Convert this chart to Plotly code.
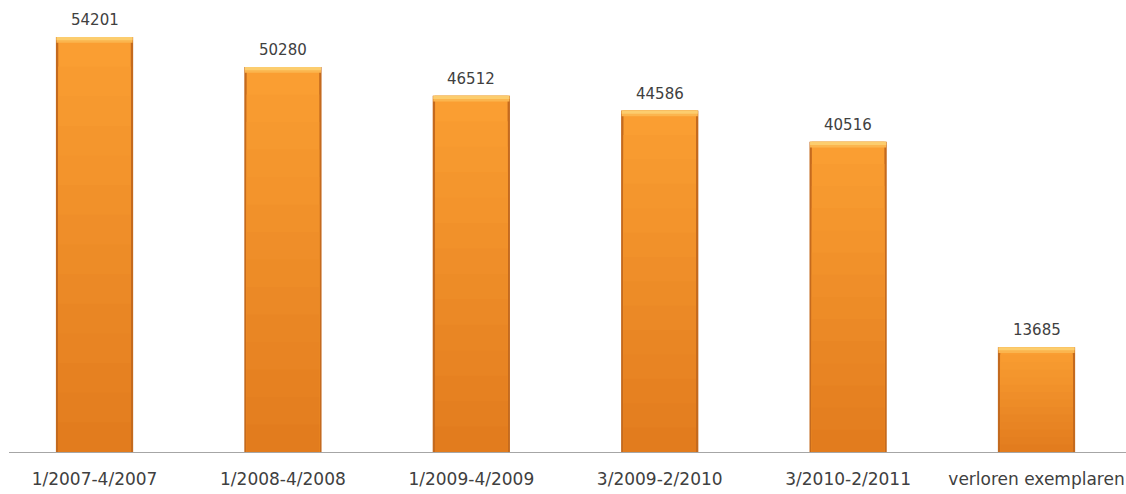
import plotly.graph_objects as go

# Periods and copy counts
periods = ["1/2007-4/2007", "1/2008-4/2008", "1/2009-4/2009",
           "3/2009-2/2010", "3/2010-2/2011", "verloren exemplaren"]
copies = [54201, 50280, 46512, 44586, 40516, 13685]

x = list(range(len(periods)))
BAR_W = 0.41
INNER_W = 0.385
Y_MAX = 59030
CAP = 750  # height of the light band at each bar top, in data units

TOP_RGB = (250, 158, 50)
BOT_RGB = (226, 124, 30)
STEPS = 14

fig = go.Figure()

# darker body gives the shaded side edges
fig.add_trace(go.Bar(x=x, y=copies, width=BAR_W,
                     marker=dict(color="#C46A1E", line=dict(width=0)),
                     hoverinfo="skip"))

# vertical gradient: full-height light layer first, shorter darker layers on top
for k in range(STEPS):
    frac = 1 - k / STEPS
    t = k / (STEPS - 1)
    rgb = tuple(round(TOP_RGB[i] + (BOT_RGB[i] - TOP_RGB[i]) * t) for i in range(3))
    fig.add_trace(go.Bar(x=x, y=[v * frac for v in copies], width=INNER_W,
                         marker=dict(color="rgb(%d,%d,%d)" % rgb, line=dict(width=0)),
                         hoverinfo="skip"))

# pale highlight band along the top of every bar, fading into the orange
fig.add_trace(go.Bar(x=x, y=[CAP] * len(copies), base=[v - CAP for v in copies],
                     width=BAR_W - 0.006,
                     marker=dict(color="#FBB54E", line=dict(width=0)),
                     hoverinfo="skip"))
fig.add_trace(go.Bar(x=x, y=[CAP * 0.55] * len(copies),
                     base=[v - CAP * 0.55 for v in copies],
                     width=BAR_W - 0.006,
                     marker=dict(color="#FCCD6E", line=dict(width=0)),
                     hoverinfo="skip"))

for xi, v in zip(x, copies):
    fig.add_annotation(x=xi, y=v, text=str(v), showarrow=False,
                       yanchor="bottom", yshift=6,
                       font=dict(family="DejaVu Sans", size=15, color="#404040"))

fig.update_layout(
    barmode="overlay",
    width=1126, height=494,
    margin=dict(l=9, r=0, t=0, b=42),
    paper_bgcolor="white", plot_bgcolor="white",
    showlegend=False,
    xaxis=dict(range=[-0.454, 5.475], tickmode="array", tickvals=x, ticktext=periods,
               showgrid=False, zeroline=False, showline=True, linecolor="#A6A6A6",
               linewidth=1, ticks="", ticklabelstandoff=12,
               tickfont=dict(family="DejaVu Sans", size=17, color="#404040")),
    yaxis=dict(range=[0, Y_MAX], visible=False),
)

fig.write_html("out.html")
